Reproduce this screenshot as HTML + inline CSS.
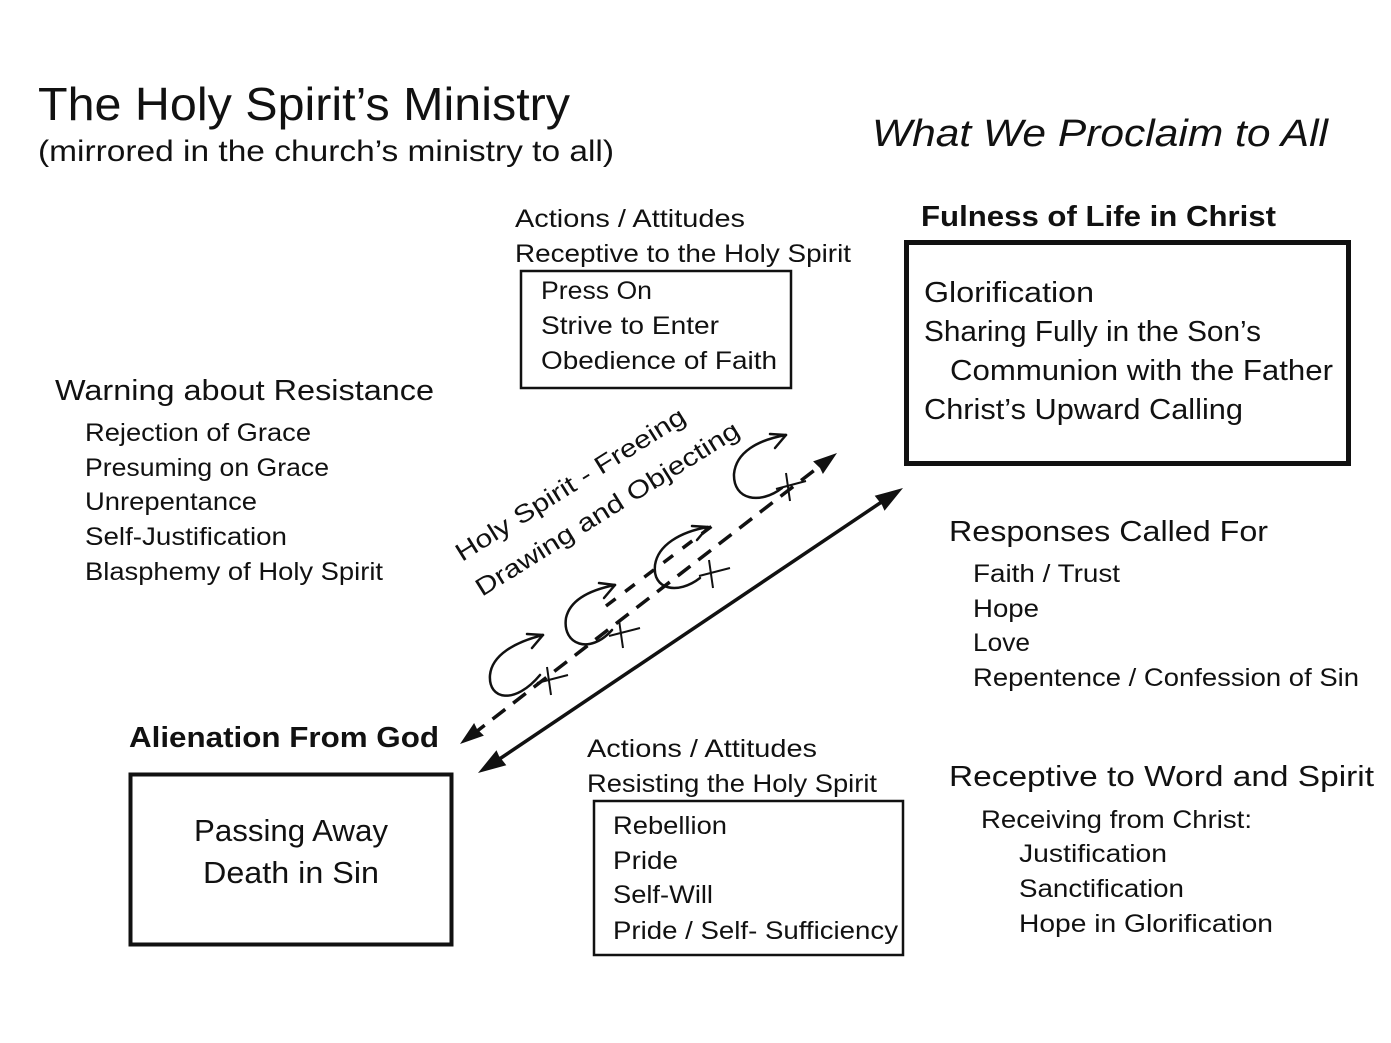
<!DOCTYPE html>
<html><head><meta charset="utf-8"><style>
html,body{margin:0;padding:0;background:#fff;}
svg{display:block}
text{font-family:"Liberation Sans",sans-serif;fill:#111;}
</style></head><body>
<svg width="1391" height="1043" viewBox="0 0 1391 1043" xmlns="http://www.w3.org/2000/svg">
<g>
<text x="38" y="120" font-size="46" textLength="532" lengthAdjust="spacingAndGlyphs">The Holy Spirit’s Ministry</text>
<text x="38" y="161" font-size="30" textLength="576" lengthAdjust="spacingAndGlyphs">(mirrored in the church’s ministry to all)</text>
<text x="872" y="146" font-size="38" font-style="italic" textLength="456" lengthAdjust="spacingAndGlyphs">What We Proclaim to All</text>

<text x="515" y="227" font-size="25" textLength="230" lengthAdjust="spacingAndGlyphs">Actions / Attitudes</text>
<text x="515" y="262" font-size="25" textLength="336" lengthAdjust="spacingAndGlyphs">Receptive to the Holy Spirit</text>
<rect x="521" y="271" width="270" height="117" fill="none" stroke="#111" stroke-width="2.5"/>
<text x="541" y="299" font-size="25" textLength="111" lengthAdjust="spacingAndGlyphs">Press On</text>
<text x="541" y="334" font-size="25" textLength="178" lengthAdjust="spacingAndGlyphs">Strive to Enter</text>
<text x="541" y="369" font-size="25" textLength="236" lengthAdjust="spacingAndGlyphs">Obedience of Faith</text>

<text x="921" y="226" font-size="29" font-weight="bold" textLength="355" lengthAdjust="spacingAndGlyphs">Fulness of Life in Christ</text>
<rect x="906.5" y="242.5" width="442" height="221" fill="none" stroke="#111" stroke-width="5"/>
<text x="924" y="302" font-size="29" textLength="170" lengthAdjust="spacingAndGlyphs">Glorification</text>
<text x="924" y="341" font-size="29" textLength="337" lengthAdjust="spacingAndGlyphs">Sharing Fully in the Son’s</text>
<text x="950" y="380" font-size="29" textLength="383" lengthAdjust="spacingAndGlyphs">Communion with the Father</text>
<text x="924" y="419" font-size="29" textLength="319" lengthAdjust="spacingAndGlyphs">Christ’s Upward Calling</text>

<text x="55" y="400" font-size="29" textLength="379" lengthAdjust="spacingAndGlyphs">Warning about Resistance</text>
<text x="85" y="441" font-size="25" textLength="226" lengthAdjust="spacingAndGlyphs">Rejection of Grace</text>
<text x="85" y="476" font-size="25" textLength="244" lengthAdjust="spacingAndGlyphs">Presuming on Grace</text>
<text x="85" y="510" font-size="25" textLength="172" lengthAdjust="spacingAndGlyphs">Unrepentance</text>
<text x="85" y="545" font-size="25" textLength="202" lengthAdjust="spacingAndGlyphs">Self-Justification</text>
<text x="85" y="580" font-size="25" textLength="298" lengthAdjust="spacingAndGlyphs">Blasphemy of Holy Spirit</text>

<text x="949" y="541" font-size="29" textLength="319" lengthAdjust="spacingAndGlyphs">Responses Called For</text>
<text x="973" y="582" font-size="25" textLength="147" lengthAdjust="spacingAndGlyphs">Faith / Trust</text>
<text x="973" y="617" font-size="25" textLength="66" lengthAdjust="spacingAndGlyphs">Hope</text>
<text x="973" y="651" font-size="25" textLength="57" lengthAdjust="spacingAndGlyphs">Love</text>
<text x="973" y="686" font-size="25" textLength="386" lengthAdjust="spacingAndGlyphs">Repentence / Confession of Sin</text>

<text x="129" y="747" font-size="29" font-weight="bold" textLength="310" lengthAdjust="spacingAndGlyphs">Alienation From God</text>
<rect x="130.5" y="774.5" width="321" height="170" fill="none" stroke="#111" stroke-width="4"/>
<text x="194" y="841" font-size="31" textLength="194" lengthAdjust="spacingAndGlyphs">Passing Away</text>
<text x="203" y="883" font-size="31" textLength="176" lengthAdjust="spacingAndGlyphs">Death in Sin</text>

<text x="587" y="757" font-size="25" textLength="230" lengthAdjust="spacingAndGlyphs">Actions / Attitudes</text>
<text x="587" y="792" font-size="25" textLength="290" lengthAdjust="spacingAndGlyphs">Resisting the Holy Spirit</text>
<rect x="594" y="801" width="309" height="154" fill="none" stroke="#111" stroke-width="2.5"/>
<text x="613" y="834" font-size="25" textLength="114" lengthAdjust="spacingAndGlyphs">Rebellion</text>
<text x="613" y="869" font-size="25" textLength="65" lengthAdjust="spacingAndGlyphs">Pride</text>
<text x="613" y="903" font-size="25" textLength="100" lengthAdjust="spacingAndGlyphs">Self-Will</text>
<text x="613" y="939" font-size="25" textLength="285" lengthAdjust="spacingAndGlyphs">Pride / Self- Sufficiency</text>

<text x="949" y="786" font-size="29" textLength="425" lengthAdjust="spacingAndGlyphs">Receptive to Word and Spirit</text>
<text x="981" y="828" font-size="25" textLength="271" lengthAdjust="spacingAndGlyphs">Receiving from Christ:</text>
<text x="1019" y="862" font-size="25" textLength="148" lengthAdjust="spacingAndGlyphs">Justification</text>
<text x="1019" y="897" font-size="25" textLength="165" lengthAdjust="spacingAndGlyphs">Sanctification</text>
<text x="1019" y="932" font-size="25" textLength="254" lengthAdjust="spacingAndGlyphs">Hope in Glorification</text>

<text transform="translate(462,562) rotate(-32)" font-size="25" textLength="266" lengthAdjust="spacingAndGlyphs">Holy Spirit - Freeing</text>
<text transform="translate(482,597) rotate(-32)" font-size="25" textLength="306" lengthAdjust="spacingAndGlyphs">Drawing and Objecting</text>
</g>

<!-- solid double arrow -->
<line x1="495" y1="762" x2="886" y2="499" stroke="#111" stroke-width="3.5"/>
<path d="M478,773 L506.3,765.2 L499,756 L496.5,750.2 Z" fill="#111"/>
<path d="M903,488 L874.7,495.8 L882,505 L884.5,510.8 Z" fill="#111"/>
<!-- dashed arrow -->
<line x1="472" y1="735" x2="825" y2="462" stroke="#111" stroke-width="3.5" stroke-dasharray="16,10"/>
<path d="M460,744 L483.9,735.6 L477,729 L474.1,723 Z" fill="#111"/>
<path d="M837,453 L813.1,461.4 L820,468 L822.9,474 Z" fill="#111"/>
<!-- second dashed fragment -->
<line x1="606" y1="606" x2="712" y2="526" stroke="#111" stroke-width="3.5" stroke-dasharray="12,12"/>

<g fill="none" stroke="#111" stroke-width="2.5" stroke-linecap="round">
<path d="M540,675 C515,705 488,700 490,675 C492,655 515,642 543,635"/>
<path d="M543,635 L527,634 M543,635 L532,648"/>
<path d="M612,630 C590,655 562,645 566,618 C570,600 590,590 615,585"/>
<path d="M615,585 L599,583 M615,585 L604,598"/>
<path d="M700,578 C678,595 652,590 655,565 C658,545 680,532 708,527"/>
<path d="M708,527 L692,526 M708,527 L697,540"/>
<path d="M782,488 C760,505 733,500 734,474 C736,452 758,440 786,435"/>
<path d="M786,435 L770,434 M786,435 L775,448"/>
</g>
<g fill="none" stroke="#111" stroke-width="2">
<path d="M537,683 L568,675 M547,667 L551,695"/>
<path d="M609,636 L640,628 M619,620 L623,648"/>
<path d="M699,576 L730,568 M709,560 L713,588"/>
<path d="M776,489 L806,481 M786,473 L790,501"/>
</g>
</svg>
</body></html>
